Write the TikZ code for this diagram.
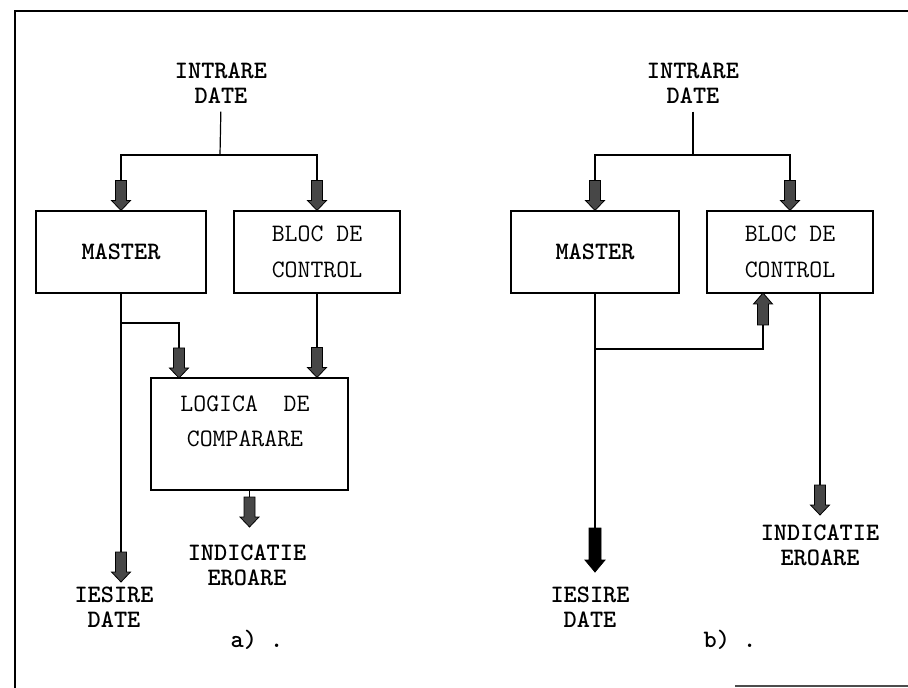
\documentclass[tikz,border=0pt]{standalone}
\usetikzlibrary{calc}
\tikzset{
  lbl/.style={font=\fontsize{18.8}{19}\selectfont\ttfamily\bfseries, inner sep=0pt, align=center},
  lbln/.style={font=\fontsize{18.8}{26.5}\selectfont\ttfamily, inner sep=0pt, align=center},
  blk/.style={draw, line width=0.8pt, inner sep=0pt, rectangle},
  wire/.style={line width=0.9pt},
  fatfill/.style={fill=black!72, draw=black, line width=0.6pt},
  fatdown/.pic={\filldraw[fatfill] (-5.5,-30) -- (5.5,-30) -- (5.5,-10) -- (9.5,-10) -- (0,0) -- (-9.5,-10) -- (-5.5,-10) -- cycle;},
  fatup/.pic={\filldraw[fatfill] (-5.5,32) -- (5.5,32) -- (5.5,11) -- (9.5,11) -- (0,0) -- (-9.5,11) -- (-5.5,11) -- cycle;},
  bigdown/.pic={\filldraw[fill=black, draw=black, line width=0.6pt] (-6,-44) -- (6,-44) -- (6,-12) -- (10,-12) -- (0,0) -- (-10,-12) -- (-6,-12) -- cycle;}
}
\begin{document}
\begin{tikzpicture}[x=0.75pt,y=-0.75pt]
\useasboundingbox (0,0) rectangle (908,688);
% frame
\draw[line width=1pt] (15,688) -- (15,11) -- (908,11);
\draw[line width=0.8pt, black!70] (735,686) -- (908,686);

% ---------- panel a ----------
\node[lbl] (ina) at (221,83) {INTRARE\\DATE};
\node[blk, minimum width=127.5pt, minimum height=61.5pt, lbl] (mastera) at (121,252) {MASTER};
\node[blk, minimum width=124.5pt, minimum height=61.5pt, lbln] (bloca) at (317,252) {BLOC DE\\CONTROL};
\node[blk, minimum width=147.75pt, minimum height=84pt] (logica) at (249.5,434) {};
\node[lbln] (logtxt) at (245,421) {LOGICA\ \ DE\\COMPARARE};
\node[lbl] (outa) at (114,607) {IESIRE\\DATE};
\node[lbl] (erra) at (247,565) {INDICATIE\\EROARE};
\node[lbl] (capa) at (257,640) {a) .};

\coordinate (ja) at (220,155);
\coordinate (ba) at (121,323);
\coordinate (la) at (179,378);
\coordinate (oa) at (121,582);
\coordinate (ea) at (249.5,527);
\draw[wire, shorten <=6pt] (ina.south) -- (ja);
\draw[wire] (ja) -| (mastera.north);
\draw[wire] (ja) -| (bloca.north);
\draw[wire] (mastera.south) -- (oa);
\draw[wire] (ba) -| (la);
\draw[wire] (bloca.south) -- (bloca.south |- logica.north);
\draw[wire] (logica.south) -- (ea);
\pic at (mastera.north) {fatdown};
\pic at (bloca.north) {fatdown};
\pic at (la) {fatdown};
\pic at (bloca.south |- logica.north) {fatdown};
\pic at (ea) {fatdown};
\pic at (oa) {fatdown};

% ---------- panel b ----------
\node[lbl] (inb) at (693,83) {INTRARE\\DATE};
\node[blk, minimum width=126pt, minimum height=61.5pt, lbl] (masterb) at (595,252) {MASTER};
\node[blk, minimum width=124.5pt, minimum height=61.5pt, lbln] (blocb) at (790,252) {BLOC DE\\CONTROL};
\node[lbl] (outb) at (590,607) {IESIRE\\DATE};
\node[lbl] (errb) at (820,545) {INDICATIE\\EROARE};
\node[lbl] (capb) at (730,640) {b) .};

\coordinate (jb) at (693,155);
\coordinate (bb) at (595,349);
\coordinate (ub) at (763,293);
\coordinate (ob) at (595,572);
\coordinate (eb) at (820,515);
\draw[wire, shorten <=6pt] (inb.south) -- (jb);
\draw[wire] (jb) -| (masterb.north);
\draw[wire] (jb) -| (blocb.north);
\draw[wire] (masterb.south) -- (ob);
\draw[wire] (bb) -| (ub);
\draw[wire] (eb |- blocb.south) -- (eb);
\pic at (masterb.north) {fatdown};
\pic at (blocb.north) {fatdown};
\pic at (ub) {fatup};
\pic at (eb) {fatdown};
\pic at (ob) {bigdown};
\end{tikzpicture}
\end{document}
